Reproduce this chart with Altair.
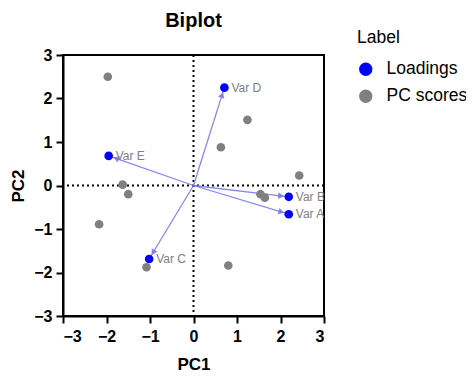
import math
import altair as alt
import pandas as pd

# Loadings
load_labels = ["Var A", "Var B", "Var C", "Var D", "Var E"]
load_x = [2.19, 2.19, -1.02, 0.71, -1.95]
load_y = [-0.66, -0.26, -1.69, 2.25, 0.68]

# PC scores
score_x = [-1.97, 1.24, 0.63, 2.43, -1.63, -1.50, 1.54, 1.64, -2.17, -1.08, 0.80]
score_y = [2.50, 1.51, 0.88, 0.23, 0.02, -0.20, -0.20, -0.28, -0.89, -1.88, -1.84]

ticks = [-3, -2, -1, 0, 1, 2, 3]
chart_title = "Biplot"

pts = pd.DataFrame(
    {
        "PC1": score_x + load_x,
        "PC2": score_y + load_y,
        "Label": ["PC scores"] * len(score_x) + ["Loadings"] * len(load_x),
    }
)

arrows = pd.DataFrame({"x0": 0.0, "y0": 0.0, "x": load_x, "y": load_y, "name": load_labels})
back = 0.2
arrows["L"] = (arrows["x"] ** 2 + arrows["y"] ** 2) ** 0.5
arrows["hx"] = arrows["x"] * (arrows["L"] - back) / arrows["L"]
arrows["hy"] = arrows["y"] * (arrows["L"] - back) / arrows["L"]
arrows["ang"] = [(math.degrees(math.atan2(a, b)) + 360) % 360 for a, b in zip(arrows["x"], arrows["y"])]

xs = alt.Scale(domain=[-3, 3], nice=False, zero=False)
ys = alt.Scale(domain=[-3, 3], nice=False, zero=False)

axis_common = dict(
    values=ticks,
    domainColor="black",
    domainWidth=2,
    tickColor="black",
    tickWidth=2,
    tickSize=7,
    labelFont="Liberation Sans",
    labelFontSize=16,
    labelFontWeight="bold",
    labelColor="black",
    titleFont="Liberation Sans",
    titleFontSize=17,
    titleFontWeight="bold",
    titleColor="black",
    grid=False,
)

zero = pd.DataFrame({"z": [0]})
vline = alt.Chart(zero).mark_rule(color="black", strokeWidth=2, strokeDash=[2, 3]).encode(x=alt.X("z:Q", scale=xs))
hline = alt.Chart(zero).mark_rule(color="black", strokeWidth=2, strokeDash=[2, 3]).encode(y=alt.Y("z:Q", scale=ys))

base_pts = alt.Chart(pts).mark_circle(size=75, opacity=1).encode(
    x=alt.X("PC1:Q", scale=xs, axis=alt.Axis(title="PC1", labelPadding=5, titlePadding=12, **axis_common)),
    y=alt.Y("PC2:Q", scale=ys, axis=alt.Axis(title="PC2", labelPadding=4, titlePadding=6, **axis_common)),
    color=alt.Color(
        "Label:N",
        scale=alt.Scale(domain=["Loadings", "PC scores"], range=["#0000ff", "#808080"]),
        legend=alt.Legend(
            title="Label",
            orient="none",
            legendX=294,
            legendY=-26,
            titleFont="Liberation Sans",
            titleFontSize=17.5,
            titleFontWeight="normal",
            titleColor="black",
            labelFont="Liberation Sans",
            labelFontSize=17.5,
            labelColor="black",
            labelOffset=12,
            symbolSize=177,
            symbolType="circle",
            symbolStrokeWidth=0,
            rowPadding=8,
            titlePadding=14,
        ),
    ),
    order=alt.Order("Label:N", sort="descending"),
)

lines = alt.Chart(arrows).mark_rule(color="#7a7af0", strokeWidth=1.3, opacity=0.9).encode(
    x=alt.X("x0:Q", scale=xs), y=alt.Y("y0:Q", scale=ys), x2="x:Q", y2="y:Q"
)
heads = alt.Chart(arrows).mark_point(shape="triangle", filled=True, size=45, color="#7a7af0", opacity=0.9).encode(
    x=alt.X("hx:Q", scale=xs), y=alt.Y("hy:Q", scale=ys), angle=alt.Angle("ang:Q", scale=None)
)

texts = alt.Chart(arrows).mark_text(
    align="left", baseline="middle", dx=7, font="Liberation Sans", fontSize=12, color="#808080", clip=True
).encode(x=alt.X("x:Q", scale=xs), y=alt.Y("y:Q", scale=ys), text="name:N")

title_mark = alt.Chart(pd.DataFrame({"t": [chart_title]})).mark_text(
    align="center", baseline="alphabetic", font="Liberation Sans", fontSize=20, fontWeight="bold", color="black"
).encode(text="t:N", x=alt.value(130.5), y=alt.value(-28))

chart = (
    alt.layer(vline, hline, lines, heads, base_pts, texts, title_mark)
    .properties(
        width=261,
        height=261,
        autosize=alt.AutoSizeParams(type="none"),
        padding={"left": 55, "top": 47, "right": 142, "bottom": 60},
    )
    .configure_view(stroke="black", strokeWidth=2)
)

chart.save("out.html", embed_options={"renderer": "svg", "actions": False})
